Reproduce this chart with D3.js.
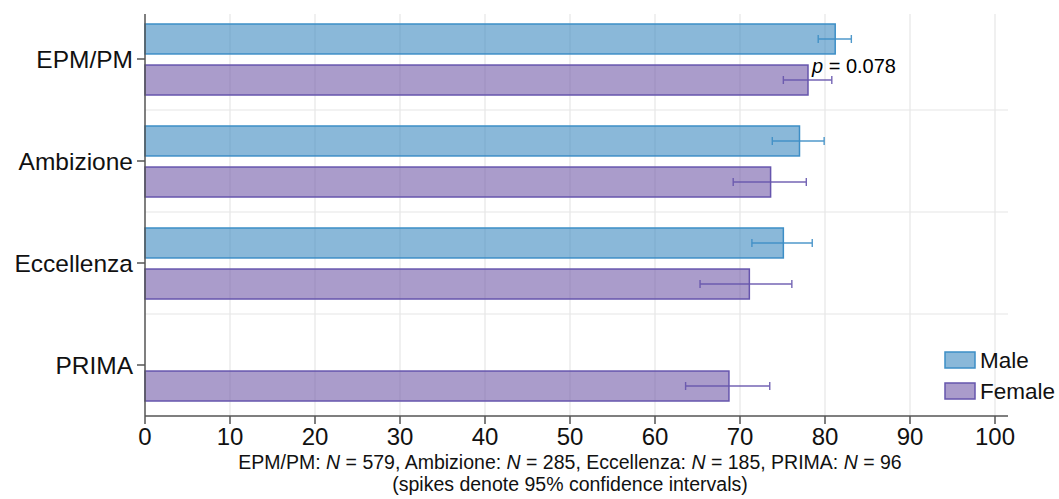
<!DOCTYPE html>
<html>
<head>
<meta charset="utf-8">
<script src="https://cdn.jsdelivr.net/npm/d3@7"></script>
<style>
body { margin: 0; background: #fff; }
text { font-family: "Liberation Sans", Arial, sans-serif; }
</style>
</head>
<body>
<svg id="chart"></svg>
<script>
var width = 1059, height = 499;

// data
var categories = ["EPM/PM", "Ambizione", "Eccellenza", "PRIMA"];
var groups = ["Male", "Female"];
var maleMean = [81.2, 77.0, 75.1, null];
var maleLo   = [79.2, 73.8, 71.4, null];
var maleHi   = [83.1, 79.9, 78.5, null];
var femaleMean = [78.0, 73.6, 71.1, 68.7];
var femaleLo   = [75.1, 69.2, 65.3, 63.6];
var femaleHi   = [80.8, 77.8, 76.1, 73.5];
var xTicks = [0, 10, 20, 30, 40, 50, 60, 70, 80, 90, 100];
var note1 = "EPM/PM: N = 579, Ambizione: N = 285, Eccellenza: N = 185, PRIMA: N = 96";

var colors = {
  Male:   { fill: "#3182bd", stroke: "#3d8ec6" },
  Female: { fill: "#6a51a3", stroke: "#6655ad" }
};

var rows = [];
categories.forEach(function(c, i){
  rows.push({cat: c, group: "Male", mean: maleMean[i], lo: maleLo[i], hi: maleHi[i]});
  rows.push({cat: c, group: "Female", mean: femaleMean[i], lo: femaleLo[i], hi: femaleHi[i]});
});
rows = rows.filter(function(d){ return d.mean != null; });

var margin = {top: 8, left: 145, bottom: 83, right: 51};
var xScale = d3.scaleLinear().domain([0, 100]).range([margin.left, 995]);
var yScale = d3.scaleBand().domain(categories).range([margin.top, height - margin.bottom]);
var subScale = d3.scaleBand().domain(groups).range([16, yScale.bandwidth() - 15]).paddingInner(0.27);

var svg = d3.select("#chart").attr("width", width).attr("height", height);

var plotRight = 1008, plotTop = 14, plotBottom = height - margin.bottom;

// gridlines
var grid = svg.append("g").attr("class", "grid");
grid.selectAll(".vg").data(xTicks.slice(1)).enter().append("line")
  .attr("x1", function(d){ return xScale(d); }).attr("x2", function(d){ return xScale(d); })
  .attr("y1", plotTop).attr("y2", plotBottom)
  .attr("stroke", "#e6e6e6").attr("stroke-width", 1.2);
grid.selectAll(".hg").data(categories.slice(1)).enter().append("line")
  .attr("x1", margin.left).attr("x2", plotRight)
  .attr("y1", function(d){ return yScale(d); }).attr("y2", function(d){ return yScale(d); })
  .attr("stroke", "#e6e6e6").attr("stroke-width", 1.2);

// bars
var bars = svg.append("g").attr("class", "bars");
bars.selectAll("rect").data(rows).enter().append("rect")
  .attr("x", xScale(0))
  .attr("y", function(d){ return yScale(d.cat) + subScale(d.group); })
  .attr("width", function(d){ return xScale(d.mean) - xScale(0); })
  .attr("height", subScale.bandwidth())
  .attr("fill", function(d){ return colors[d.group].fill; })
  .attr("fill-opacity", 0.57)
  .attr("stroke", function(d){ return colors[d.group].stroke; })
  .attr("stroke-width", 1.5);

// error spikes
var spikes = svg.append("g").attr("class", "spikes");
rows.forEach(function(d){
  var cy = yScale(d.cat) + subScale(d.group) + subScale.bandwidth() / 2;
  var g = spikes.append("g").attr("stroke", colors[d.group].stroke).attr("stroke-width", 1.4).attr("opacity", 0.9);
  g.append("line").attr("x1", xScale(d.lo)).attr("x2", xScale(d.hi)).attr("y1", cy).attr("y2", cy);
  [d.lo, d.hi].forEach(function(v){
    g.append("line").attr("x1", xScale(v)).attr("x2", xScale(v)).attr("y1", cy - 4).attr("y2", cy + 4);
  });
});

// p-value annotation
var pt = svg.append("text").attr("x", xScale(78.0) + 4).attr("y", 73)
  .attr("font-size", 20).attr("fill", "#000");
pt.append("tspan").attr("font-style", "italic").text("p ");
pt.append("tspan").text("= 0.078");

// axes
var axisColor = "#555";
svg.append("line").attr("x1", margin.left).attr("x2", margin.left)
  .attr("y1", plotTop).attr("y2", plotBottom).attr("stroke", axisColor).attr("stroke-width", 1.5);
svg.append("line").attr("x1", margin.left).attr("x2", plotRight)
  .attr("y1", plotBottom).attr("y2", plotBottom).attr("stroke", axisColor).attr("stroke-width", 1.5);

var xAxis = svg.append("g").selectAll(".xt").data(xTicks).enter().append("g");
xAxis.append("line").attr("x1", function(d){ return xScale(d); }).attr("x2", function(d){ return xScale(d); })
  .attr("y1", plotBottom).attr("y2", plotBottom + 8).attr("stroke", axisColor).attr("stroke-width", 1.5);
xAxis.append("text").attr("x", function(d){ return xScale(d); }).attr("y", plotBottom + 29)
  .attr("text-anchor", "middle").attr("font-size", 24).attr("fill", "#111").text(function(d){ return d; });

var yAxis = svg.append("g").selectAll(".yt").data(categories).enter().append("g");
yAxis.append("line").attr("x1", margin.left - 8).attr("x2", margin.left)
  .attr("y1", function(d){ return yScale(d) + yScale.bandwidth() / 2; })
  .attr("y2", function(d){ return yScale(d) + yScale.bandwidth() / 2; })
  .attr("stroke", axisColor).attr("stroke-width", 1.5);
yAxis.append("text").attr("x", margin.left - 12)
  .attr("y", function(d){ return yScale(d) + yScale.bandwidth() / 2; })
  .attr("dy", "0.36em").attr("text-anchor", "end").attr("font-size", 24.5).attr("fill", "#111")
  .text(function(d){ return d; });

// footnote with italic N (spaces kept inside the italic span)
var foot = svg.append("text").attr("x", xScale(50)).attr("y", 469)
  .attr("text-anchor", "middle").attr("font-size", 19.5).attr("fill", "#111");
note1.split(" N ").forEach(function(part, i){
  if (i > 0) foot.append("tspan").attr("font-style", "italic").text(" N ");
  foot.append("tspan").text(part);
});
svg.append("text").attr("x", xScale(50)).attr("y", 491)
  .attr("text-anchor", "middle").attr("font-size", 19.5).attr("fill", "#111")
  .text("(spikes denote 95% confidence intervals)");

// legend
var legend = svg.append("g").selectAll(".lg").data(groups).enter().append("g")
  .attr("transform", function(d, i){ return "translate(945," + (352 + i * 31) + ")"; });
legend.append("rect").attr("width", 30).attr("height", 16)
  .attr("fill", function(d){ return colors[d].fill; }).attr("fill-opacity", 0.57)
  .attr("stroke", function(d){ return colors[d].stroke; }).attr("stroke-width", 1.5);
legend.append("text").attr("x", 35).attr("y", 8).attr("dy", "0.36em")
  .attr("font-size", 22.5).attr("fill", "#111").text(function(d){ return d; });
</script>
</body>
</html>
